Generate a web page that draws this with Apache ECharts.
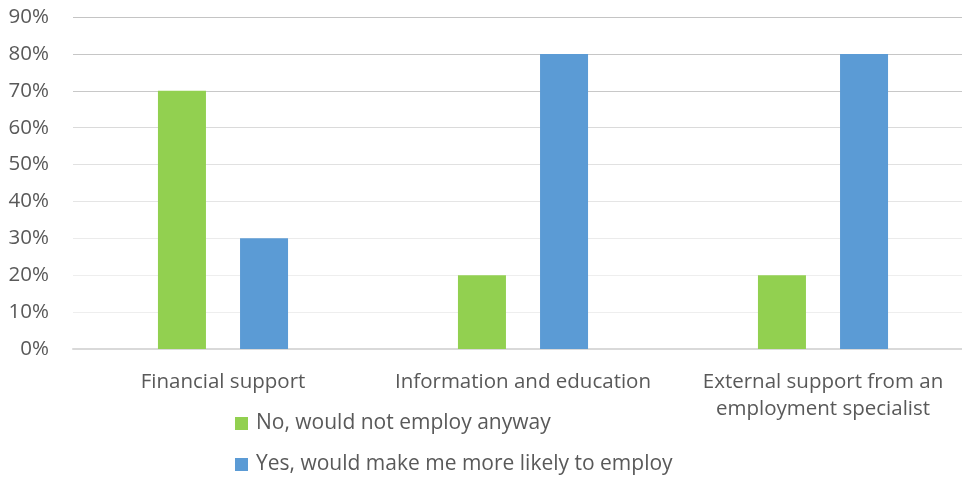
<!DOCTYPE html>
<html>
<head>
<meta charset="utf-8">
<script src="https://cdn.jsdelivr.net/npm/echarts@6/dist/echarts.min.js"></script>
<style>
  html, body { margin: 0; padding: 0; background: #fff; }
  #chart { width: 962px; height: 477px; }
</style>
</head>
<body>
<div id="chart"></div>
<script>
const categories = [
  'Financial support',
  'Information and education',
  'External support from an\nemployment specialist'
];
const noValues = [70, 20, 20];
const yesValues = [30, 80, 80];
const seriesNames = ['No, would not employ anyway', 'Yes, would make me more likely to employ'];
const colors = ['#92d050', '#5b9bd5'];

// gridlines from 10% upward
const gridColors = ['#eeeeee', '#eeeeee', '#ebebeb', '#e5e5e5', '#e1e1e1', '#dadada', '#c8c8c8', '#c6c6c6', '#c4c4c4'];

const font = '"Open Sans", sans-serif';
const textColor = '#595959';

const chart = echarts.init(document.getElementById('chart'), null, { renderer: 'canvas' });
chart.setOption({
  animation: false,
  textStyle: { fontFamily: font },
  grid: { left: 73, width: 900, top: 17, bottom: 128, containLabel: false, outerBoundsMode: 'none' },
  legend: {
    orient: 'vertical',
    left: 235,
    top: 413,
    height: 64,
    padding: 0,
    itemWidth: 13,
    itemHeight: 13,
    itemGap: 20,
    icon: 'rect',
    textStyle: { fontFamily: font, fontSize: 21, color: textColor, padding: [0, 0, 0, 3] },
    data: seriesNames
  },
  xAxis: {
    type: 'category',
    data: categories,
    axisLine: { lineStyle: { color: '#d9d9d9', width: 2 } },
    axisTick: { show: false },
    axisLabel: { interval: 0, fontFamily: font, fontSize: 20.5, color: textColor, margin: 20, lineHeight: 27 }
  },
  yAxis: {
    type: 'value',
    min: 0,
    max: 90,
    interval: 10,
    axisLine: { show: false },
    axisTick: { show: false },
    axisLabel: { fontFamily: font, fontSize: 20.5, color: textColor, margin: 24, formatter: '{value}%' },
    splitLine: { lineStyle: { color: ['#d9d9d9'].concat(gridColors), width: 1 } }
  },
  series: [
    { name: seriesNames[0], type: 'bar', data: noValues, barWidth: 48, barGap: '71%', itemStyle: { color: colors[0] } },
    { name: seriesNames[1], type: 'bar', data: yesValues, barWidth: 48, itemStyle: { color: colors[1] } }
  ]
});
</script>
</body>
</html>
